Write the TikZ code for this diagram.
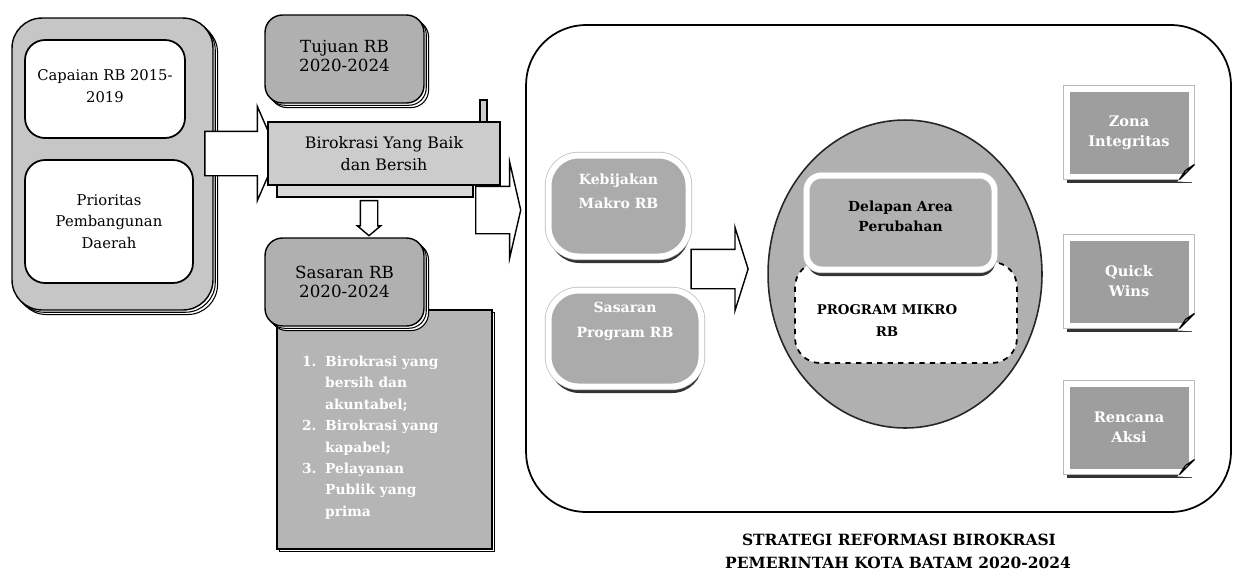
\documentclass[tikz,border=0pt]{standalone}
\usepackage{fontspec}
\setmainfont{DejaVu Serif}
\usepackage{tikz}
\usetikzlibrary{arrows.meta, positioning, shapes.arrows, shapes.geometric, shadows, calc}

\begin{document}
\begin{tikzpicture}[
  x=0.02cm, y=-0.02cm,
  stackbox/.style={
    draw, line width=0.8pt, align=center, inner sep=2pt,
    double copy shadow={shadow xshift=1.3pt, shadow yshift=-1.3pt,
      draw=black, fill=white, line width=0.6pt}
  },
  plainbox/.style={
    draw, fill=white, rounded corners=0.4cm, line width=1pt, align=center,
    font=\fontsize{8.4}{12.2}\selectfont
  },
  blockarr/.style={single arrow, draw, fill=white, line width=0.8pt, inner xsep=0pt},
  halo/.style={
    drop shadow={shadow xshift=0.5pt, shadow yshift=-3.7pt, fill=black!80, opacity=1},
    preaction={draw=gray!55, line width=4.2pt},
    draw=white, line width=3.4pt, align=center,
    font=\bfseries\fontsize{8}{14}\selectfont
  },
  macro/.style={halo, rounded corners=0.6cm, fill=gray!66, text=white},
  folded/.style={
    halo, rectangle, fill=gray!76, text=white, minimum width=2.5cm,
    minimum height=1.76cm, font=\bfseries\fontsize{8.3}{11.4}\selectfont
  },
  fold/.style={fill=gray!30, draw=black, line width=0.7pt},
  caption/.style={font=\bfseries\fontsize{8.8}{10}\selectfont}
]
  \useasboundingbox (0,0) rectangle (1236,576);

  % left column
  \node[stackbox, rounded corners=0.6cm, fill=gray!45, minimum width=4.02cm,
    minimum height=5.84cm] (inputs) at (112.5,164) {};
  \node[plainbox, minimum width=3.2cm, minimum height=1.96cm, text depth=0.12cm]
    (capaian) at (105,89) {Capaian RB 2015-\\2019};
  \node[plainbox, minimum width=3.36cm, minimum height=2.46cm] (prioritas) at (109,221.5)
    {Prioritas\\Pembangunan\\Daerah};
  \node[blockarr, minimum height=1.46cm, minimum width=1.86cm, inner ysep=0.43cm,
    single arrow head extend=0.5cm, single arrow tip angle=133] (arrin) at (236.5,153.5) {};

  % tujuan and sasaran
  \node[stackbox, rounded corners=0.35cm, fill=gray!62, minimum width=3.18cm,
    minimum height=1.76cm, text depth=0.12cm, font=\fontsize{9.5}{11}\selectfont]
    (tujuan) at (344.5,59) {Tujuan RB\\2020-2024};
  \node[draw, fill=gray!40, line width=0.6pt, minimum width=0.14cm,
    minimum height=0.44cm, inner sep=0pt] (tab) at (483.5,111) {};
  \node[draw, fill=gray!30, line width=0.8pt, minimum width=3.92cm,
    minimum height=0.24cm, inner sep=0pt] (base) at (375,191) {};
  \node[draw, fill=gray!40, line width=0.8pt, minimum width=4.64cm,
    minimum height=1.26cm, align=center, font=\fontsize{9}{12.5}\selectfont]
    (baik) at (384,153.5) {Birokrasi Yang Baik\\dan Bersih};
  \node[blockarr, rotate=-90, minimum height=0.7cm, minimum width=0.44cm, inner ysep=0.16cm,
    single arrow head extend=0.06cm, single arrow tip angle=100] (arrdown) at (369,214.5) {};
  \node[draw, fill=gray!58, line width=0.8pt, minimum width=4.3cm, minimum height=4.78cm,
    copy shadow={shadow xshift=1.3pt, shadow yshift=-1.3pt, draw=black, fill=white},
    inner sep=0.5cm, text width=3.3cm, align=left, text=white,
    font=\bfseries\fontsize{7.85}{12.2}\selectfont] (list) at (384.5,429.5)
    {\begin{tabular}{@{}l@{\hspace{5pt}}l@{}}
      1. & Birokrasi yang\\ & bersih dan\\ & akuntabel;\\
      2. & Birokrasi yang\\ & kapabel;\\
      3. & Pelayanan\\ & Publik yang\\ & prima\\[-0.3cm]
    \end{tabular}};
  \node[stackbox, rounded corners=0.35cm, fill=gray!62, minimum width=3.18cm,
    minimum height=1.76cm, font=\fontsize{9.5}{11}\selectfont]
    (sasaran) at (344.5,282) {Sasaran RB\\2020-2024};
  \node[blockarr, minimum height=0.9cm, minimum width=1.9cm, inner ysep=0.46cm,
    single arrow head extend=0.49cm, single arrow tip angle=154] (arrout) at (495.5,210) {};

  % strategi
  \node[draw, rounded corners=1.2cm, line width=1pt, minimum width=14.1cm,
    minimum height=9.74cm] (strategi) at (878.5,268.5) {};
  \node[macro, minimum width=2.8cm, minimum height=2.02cm, text depth=0.6cm]
    (kebijakan) at (618.5,206) {Kebijakan\\Makro RB};
  \node[macro, minimum width=3.06cm, minimum height=1.92cm, text depth=0.75cm]
    (sasprog) at (625,338.5) {Sasaran\\Program RB};
  \node[blockarr, minimum height=1.14cm, minimum width=1.64cm, inner ysep=0.38cm,
    single arrow head extend=0.44cm, single arrow tip angle=145] (arrmid) at (716.5,269) {};

  \node[ellipse, fill=gray!62, draw=gray!30!black, line width=0.9pt,
    minimum width=5.48cm, minimum height=6.16cm] (mikro) at (905,274) {};
  \node[draw, dashed, fill=white, rounded corners=0.5cm, line width=1pt,
    minimum width=4.44cm, minimum height=2.02cm] (mikroarea) at (906,312.5) {};
  \node[font=\bfseries\fontsize{7.6}{12.5}\selectfont, align=center]
    (mikrotxt) at (887,321) {PROGRAM MIKRO\\RB};
  \node[halo, rounded corners=0.3cm, fill=gray!62, minimum width=3.76cm,
    minimum height=1.88cm, text depth=0.25cm, font=\bfseries\fontsize{7.9}{11.4}\selectfont]
    (delapan) at (900.5,222.5) {Delapan Area\\Perubahan};

  \node[folded] (zona) at (1129,132.5) {Zona\\Integritas};
  \node[folded] (quick) at (1129,281.5) {Quick\\Wins};
  \node[folded] (aksi) at (1129,427.5) {Rencana\\Aksi};

  \fill[white] ($(zona.south east)+(-17,2)$) -- ($(zona.south east)+(3,3)$) -- ($(zona.south east)+(2,-17)$) -- cycle;
  \draw[fold] ($(zona.south east)+(-15,0)$) -- ($(zona.south east)+(0,-15)$) -- ($(zona.south east)+(-9,-9)$) -- cycle;
  \fill[white] ($(quick.south east)+(-17,2)$) -- ($(quick.south east)+(3,3)$) -- ($(quick.south east)+(2,-17)$) -- cycle;
  \draw[fold] ($(quick.south east)+(-15,0)$) -- ($(quick.south east)+(0,-15)$) -- ($(quick.south east)+(-9,-9)$) -- cycle;
  \fill[white] ($(aksi.south east)+(-17,2)$) -- ($(aksi.south east)+(3,3)$) -- ($(aksi.south east)+(2,-17)$) -- cycle;
  \draw[fold] ($(aksi.south east)+(-15,0)$) -- ($(aksi.south east)+(0,-15)$) -- ($(aksi.south east)+(-9,-9)$) -- cycle;

  \node[caption] (title) at (899,540) {STRATEGI REFORMASI BIROKRASI};
  \node[caption] (subtitle) at (898,563) {PEMERINTAH KOTA BATAM 2020-2024};
\end{tikzpicture}
\end{document}
